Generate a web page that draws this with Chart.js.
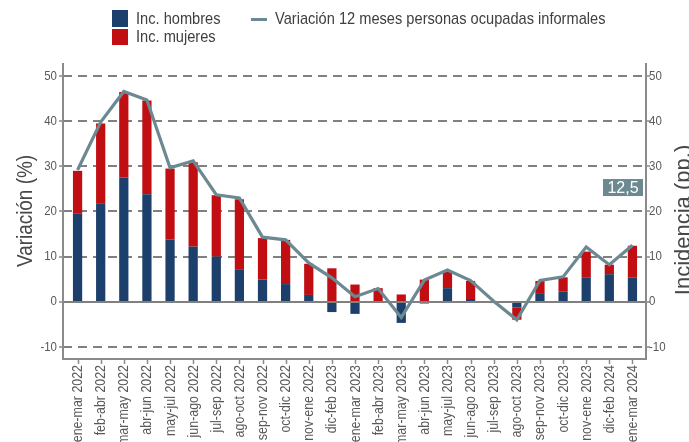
<!DOCTYPE html>
<html>
<head>
<meta charset="utf-8">
<script src="https://cdn.jsdelivr.net/npm/chart.js@4.4.1/dist/chart.umd.min.js"></script>
<style>
  body { margin: 0; background: #fff; }
  #wrap { position: relative; width: 689px; height: 442px; }
  .lg { position: absolute; font-family: 'Liberation Sans', Arial, sans-serif; font-size: 17px; line-height: 18px;
        color: #404040; white-space: nowrap; transform: scaleX(0.86); transform-origin: 0 0; }
  .sw { position: absolute; }
</style>
</head>
<body>
<div id="wrap">
  <canvas id="chart"></canvas>
  <div class="sw" style="left:112px;top:10px;width:16px;height:17px;background:#1c406b"></div>
  <div class="lg" style="left:136px;top:10px">Inc. hombres</div>
  <div class="sw" style="left:112px;top:29px;width:16px;height:16px;background:#c00e13"></div>
  <div class="lg" style="left:136px;top:28px">Inc. mujeres</div>
  <div class="sw" style="left:251px;top:18px;width:16px;height:3px;background:#6c8992"></div>
  <div class="lg" style="left:275px;top:10px">Variación 12 meses personas ocupadas informales</div>
</div>
<script>
// values
const labels = ['ene-mar 2022', 'feb-abr 2022', 'mar-may 2022', 'abr-jun 2022', 'may-jul 2022', 'jun-ago 2022',
  'jul-sep 2022', 'ago-oct 2022', 'sep-nov 2022', 'oct-dic 2022', 'nov-ene 2022', 'dic-feb 2023', 'ene-mar 2023',
  'feb-abr 2023', 'mar-may 2023', 'abr-jun 2023', 'may-jul 2023', 'jun-ago 2023', 'jul-sep 2023', 'ago-oct 2023',
  'sep-nov 2023', 'oct-dic 2023', 'nov-ene 2023', 'dic-feb 2024', 'ene-mar 2024'];
const hombres = [19.6, 21.8, 27.5, 23.8, 13.8, 12.2, 10.0, 7.2, 4.9, 3.9, 1.5, -2.3, -2.7,
  -0.1, -4.7, -0.4, 3.0, 0.6, 0.0, -1.3, 1.9, 2.3, 5.3, 6.1, 5.4];
const mujeres = [9.4, 17.7, 19.0, 20.8, 15.7, 18.7, 13.6, 15.5, 9.2, 9.8, 6.9, 7.4, 3.8,
  3.0, 1.6, 4.9, 3.6, 4.0, -0.3, -2.7, 2.7, 3.1, 5.8, 2.1, 7.0];
const variacion = [29.2, 39.8, 46.6, 44.7, 29.7, 31.2, 23.7, 23.0, 14.3, 13.7, 8.6, 5.3, 1.1,
  2.9, -3.5, 4.8, 7.0, 4.7, 0.1, -4.0, 4.7, 5.5, 12.1, 8.2, 12.5];
const yTicks = [-10, 0, 10, 20, 30, 40, 50];
const lastLabel = '12,5';

const FONT = "'Liberation Sans', Arial, sans-serif";
const BLUE = '#1c406b';
const RED = '#c00e13';
const LINE = '#6c8992';
const GRID = '#808080';
const AXIS = '#8a8a8a';
const TXT = '#595959';
const SQ = 0.85; // the reference type is narrow

// draw text squeezed horizontally (rot = rotation in radians)
function txt(ctx, s, x, y, align, size, squeeze, rot) {
  ctx.save();
  ctx.translate(x, y);
  if (rot) ctx.rotate(rot);
  ctx.scale(squeeze, 1);
  ctx.font = size + 'px ' + FONT;
  ctx.textAlign = align;
  ctx.fillText(s, 0, 0);
  ctx.restore();
}

// dashed grid, zero line, frame, tick stubs, labels, titles and value tag
const decor = {
  id: 'decor',
  beforeDatasetsDraw(chart) {
    const { ctx, chartArea: a, scales: { y } } = chart;
    ctx.save();
    ctx.strokeStyle = GRID;
    ctx.lineWidth = 2;
    ctx.setLineDash([9, 6]);
    yTicks.filter(v => v !== 0).forEach(v => {
      const py = Math.round(y.getPixelForValue(v));
      ctx.beginPath();
      ctx.moveTo(a.left - 3, py);
      ctx.lineTo(a.right + 2, py);
      ctx.stroke();
    });
    ctx.restore();
  },
  afterDatasetDraw(chart, args) {
    if (args.index !== 0) return;
    const { ctx, chartArea: a, scales: { y } } = chart;
    const py = Math.round(y.getPixelForValue(0));
    ctx.save();
    ctx.strokeStyle = GRID;
    ctx.lineWidth = 2;
    ctx.beginPath();
    ctx.moveTo(a.left - 3, py);
    ctx.lineTo(a.right + 2, py);
    ctx.stroke();
    ctx.restore();
  },
  afterDraw(chart) {
    const { ctx, chartArea: a, scales: { x, y, y2 } } = chart;
    const L = a.left - 3, R = a.right + 2, B = a.bottom;
    ctx.save();
    ctx.strokeStyle = AXIS;
    ctx.lineWidth = 2;
    ctx.beginPath();
    ctx.moveTo(L, a.top); ctx.lineTo(L, B); ctx.lineTo(R, B); ctx.lineTo(R, a.top);
    ctx.stroke();
    ctx.lineWidth = 1.5;
    ctx.beginPath();
    yTicks.forEach(v => {
      const py = Math.round(y.getPixelForValue(v));
      ctx.moveTo(L - 4, py); ctx.lineTo(L, py);
      ctx.moveTo(R, py); ctx.lineTo(R + 4, py);
    });
    labels.forEach((l, i) => {
      const px = Math.round(x.getPixelForValue(i)) + 0.5;
      ctx.moveTo(px, B); ctx.lineTo(px, B + 5);
    });
    ctx.stroke();

    // tick labels
    ctx.fillStyle = TXT;
    ctx.textBaseline = 'middle';
    yTicks.forEach(v => {
      txt(ctx, String(v), L - 6, y.getPixelForValue(v), 'right', 13.5, SQ);
      txt(ctx, String(v), R + 3, y2.getPixelForValue(v), 'left', 13.5, SQ);
    });
    labels.forEach((l, i) => {
      txt(ctx, l, x.getPixelForValue(i) + 0.5, B + 6, 'right', 14.6, SQ, -Math.PI / 2);
    });

    // axis titles
    ctx.fillStyle = '#474747';
    ctx.textBaseline = 'alphabetic';
    txt(ctx, 'Variación (%)', 32, (a.top + a.bottom) / 2, 'center', 22, 0.86, -Math.PI / 2);
    txt(ctx, 'Incidencia (pp.)', 690, 220, 'center', 22, 1, -Math.PI / 2);
    ctx.restore();

    // tag with the last value
    const cy = y2.getPixelForValue(25.3);
    ctx.save();
    ctx.fillStyle = LINE;
    ctx.fillRect(a.right - 41, cy - 8.5, 40, 17);
    ctx.fillStyle = '#ffffff';
    ctx.textBaseline = 'middle';
    txt(ctx, lastLabel, a.right - 21, cy + 1, 'center', 16, 1);
    ctx.restore();
  }
};

new Chart(document.getElementById('chart'), {
  data: {
    labels: labels,
    datasets: [
      { type: 'bar', label: 'Inc. hombres', data: hombres, backgroundColor: BLUE, stack: 'inc',
        barPercentage: 0.4, categoryPercentage: 1, order: 1 },
      { type: 'bar', label: 'Inc. mujeres', data: mujeres, backgroundColor: RED, stack: 'inc',
        barPercentage: 0.4, categoryPercentage: 1, order: 1 },
      { type: 'line', label: 'Variación 12 meses personas ocupadas informales', data: variacion,
        borderColor: LINE, borderWidth: 3.2, pointRadius: 0, tension: 0, stack: 'var', order: 0,
        borderJoinStyle: 'miter' }
    ]
  },
  options: {
    responsive: true,
    maintainAspectRatio: false,
    animation: false,
    layout: { padding: { top: 63, left: 0, right: 0, bottom: 0 } },
    plugins: { legend: { display: false }, tooltip: { enabled: false } },
    scales: {
      x: {
        stacked: true,
        offset: true,
        grid: { display: false, drawTicks: false },
        border: { display: false },
        ticks: { display: false, autoSkip: false },
        afterFit: s => { s.height = 83; }
      },
      y: {
        stacked: true,
        min: -12.7,
        max: 52.9,
        afterBuildTicks: s => { s.ticks = yTicks.map(v => ({ value: v })); },
        grid: { display: false, drawTicks: false },
        border: { display: false },
        ticks: { display: false },
        afterFit: s => { s.width = 66; }
      },
      y2: {
        position: 'right',
        min: -12.7,
        max: 52.9,
        afterBuildTicks: s => { s.ticks = yTicks.map(v => ({ value: v })); },
        grid: { display: false, drawTicks: false },
        border: { display: false },
        ticks: { display: false },
        afterFit: s => { s.width = 45; }
      }
    }
  },
  plugins: [decor]
});
</script>
</body>
</html>
